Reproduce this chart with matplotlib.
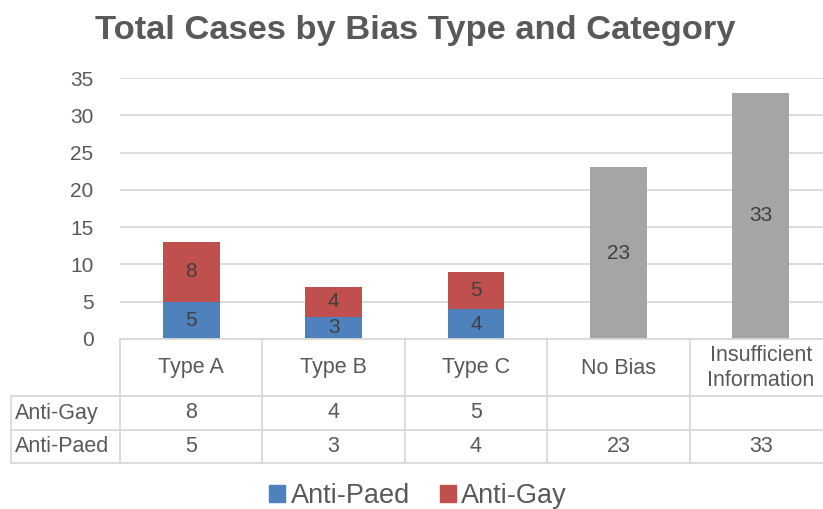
import matplotlib.pyplot as plt
import matplotlib.transforms as mtransforms
from matplotlib.patches import Patch

plt.rcParams['font.family'] = ['Liberation Sans', 'DejaVu Sans']

categories = ['Type A', 'Type B', 'Type C', 'No Bias', 'Insufficient\nInformation']
anti_paed = [5, 3, 4, 23, 33]
anti_gay = [8, 4, 5, None, None]
table_rows = ['Anti-Gay', 'Anti-Paed']

blue = '#4F81BD'
red = '#C0504D'
grey = '#A5A5A5'
text_col = '#595959'
line_col = '#D9D9D9'

W, H = 823, 509
fig = plt.figure(figsize=(W / 100, H / 100), dpi=100)

def fy(py):
    # pixel row from the top -> figure fraction
    return 1 - py / H

y0, y35 = 339, 78
ax = fig.add_axes([120 / W, fy(y0), 712 / W, (y0 - y35) / H])
ax.set_xlim(-0.5, len(categories) - 0.5)
ax.set_ylim(0, 35)
ax.set_yticks(range(0, 36, 5))
ax.set_xticks([])
ax.grid(axis='y', color=line_col, lw=1.3)
ax.set_axisbelow(True)
for s in ax.spines.values():
    s.set_visible(False)
ax.tick_params(axis='y', length=0, pad=19, labelsize=15, labelcolor=text_col)

x = range(len(categories))
bar_cols = [blue if g is not None else grey for g in anti_gay]
ax.bar(x, anti_paed, width=0.4, color=bar_cols, zorder=2)
for i, g in enumerate(anti_gay):
    if g is not None:
        ax.bar(i, g, bottom=anti_paed[i], width=0.4, color=red, zorder=2)

# value labels inside the bars
for i, p in enumerate(anti_paed):
    ax.text(i, p / 2, str(p), ha='center', va='center', fontsize=15, color='#404040', zorder=3)
    g = anti_gay[i]
    if g is not None:
        ax.text(i, p + g / 2, str(g), ha='center', va='center', fontsize=15, color='#404040', zorder=3)

# data table under the plot
trans = mtransforms.blended_transform_factory(ax.transData, fig.transFigure)
ftr = fig.transFigure
row_y = [339, 396, 430, 463]
xl, xr = -0.5, len(categories) - 0.5
lab_left = 11 / W

lines = []
lines.append(plt.Line2D([xl, xr], [fy(339)] * 2, transform=trans))
for py in row_y[1:]:
    lines.append(plt.Line2D([lab_left, 832 / W], [fy(py)] * 2, transform=ftr))
for b in range(len(categories) + 1):
    lines.append(plt.Line2D([b - 0.5] * 2, [fy(339), fy(463)], transform=trans))
lines.append(plt.Line2D([lab_left] * 2, [fy(396), fy(463)], transform=ftr))
for ln in lines:
    ln.set_color(line_col)
    ln.set_linewidth(1.3)
    fig.add_artist(ln)

tsize = 15.5
for i, c in enumerate(categories):
    fig.text(i, fy(368), c, transform=trans, ha='center', va='center',
             fontsize=tsize, color=text_col, linespacing=1.25)
    g = anti_gay[i]
    if g is not None:
        fig.text(i, fy(413), str(g), transform=trans, ha='center', va='center',
                 fontsize=tsize, color=text_col)
    fig.text(i, fy(446.5), str(anti_paed[i]), transform=trans, ha='center', va='center',
             fontsize=tsize, color=text_col)

for r, py in zip(table_rows, [413, 446.5]):
    fig.text(15 / W, fy(py), r, ha='left', va='center', fontsize=tsize, color=text_col)

fig.text(415 / W, fy(31), 'Total Cases by Bias Type and Category', ha='center', va='center',
         fontsize=24.8, fontweight='bold', color=text_col)

handles = [Patch(color=blue, label='Anti-Paed'), Patch(color=red, label='Anti-Gay')]
fig.legend(handles=handles, loc='center', bbox_to_anchor=(418 / W, fy(496)), ncol=2,
           frameon=False, fontsize=19.5, labelcolor=text_col, handlelength=0.6,
           handleheight=0.6, handletextpad=0.2, columnspacing=1.1)

plt.savefig('out.png', dpi=100)
